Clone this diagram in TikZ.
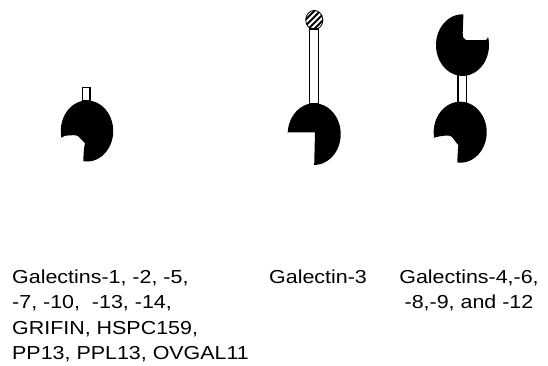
\documentclass[tikz,border=0pt]{standalone}
\usepackage{fontspec}
\setmainfont{Liberation Sans}[FakeStretch=1.14]
\tikzset{
  lobe/.style={fill=black,draw=none},
  stem/.style={draw=black,fill=white,line width=1.3pt},
  caption/.style={font=\fontsize{18.8}{25.5}\selectfont,inner sep=0pt,align=left,anchor=north west},
  centredcaption/.style={font=\fontsize{18.8}{25.5}\selectfont,inner sep=0pt,align=center,anchor=north}
}
% Elliptical arc of a carbohydrate-binding domain: centre, radii, angle range
\newcommand{\lobearc}[6]{plot[smooth,domain=#5:#6,samples=72] ({#1+#3*cos(\x)},{#2+#4*sin(\x)})}
\begin{document}
\begin{tikzpicture}[x=1pt,y=-1pt]
\useasboundingbox (0,0) rectangle (548,365);

% Proto type: single domain with short stub
\draw[stem,line width=1.1pt] (82.6,87.8) rectangle (90,101);
\fill[lobe] \lobearc{87}{131}{26.2}{30.5}{167}{458}
  -- (83.3,161) .. controls (83.6,152) and (84,147) .. (85,143)
  .. controls (81,140) and (79,135.6) .. (76,135.3)
  .. controls (72,135) and (68,135.5) .. (65,135.8)
  .. controls (63.5,136.4) and (62,137.5) .. (60.7,138) -- cycle;

% Chimera type: long stem ending in a hatched globular head
\draw[stem] (309.6,29) rectangle (318.8,104);
\begin{scope}
  \clip (314.3,20) ellipse [x radius=8.8,y radius=9.8];
  \foreach \d in {-15,-9,-3,3,9,15}
    \draw[line width=2pt] ({314.3+\d-14},34) -- ({314.3+\d+14},6);
\end{scope}
\draw[line width=0.8pt] (314.3,20) ellipse [x radius=8.6,y radius=9.6];
\fill[lobe] \lobearc{314.2}{134.1}{26.5}{30.8}{180}{450}
  -- (315,132.3) -- (287.7,132.3) -- cycle;

% Tandem repeat type: two domains joined by a short linker
\draw[stem] (458,74) rectangle (466.4,104);
\fill[lobe] \lobearc{462.5}{45.1}{26.5}{30.8}{272}{-15.5}
  .. controls (488,38) and (486.5,40) .. (485.7,40)
  -- (466,40) .. controls (463.5,39.5) and (462.8,37) .. (462.7,33) -- cycle;
\fill[lobe] \lobearc{460.2}{132.2}{26.5}{30.5}{169}{455}
  -- (457.3,162) .. controls (457.6,154) and (458,149) .. (458.3,145)
  .. controls (455,142) and (453,136.5) .. (450,135.8)
  .. controls (446,135.2) and (441,136) .. (437.3,136.8)
  .. controls (436,137.2) and (435,137.5) .. (433.7,137.7) -- cycle;

% Family member lists
\node[caption] (proto) at (12,269.6) {Galectins-1, -2, -5,\\-7, -10,\ \ -13, -14,\\GRIFIN, HSPC159,\\PP13, PPL13, OVGAL11};
\node[centredcaption] (chimera) at (318,269.6) {Galectin-3};
\node[centredcaption] (tandem) at (469,269.6) {Galectins-4,-6,\\-8,-9, and -12};
\end{tikzpicture}
\end{document}
